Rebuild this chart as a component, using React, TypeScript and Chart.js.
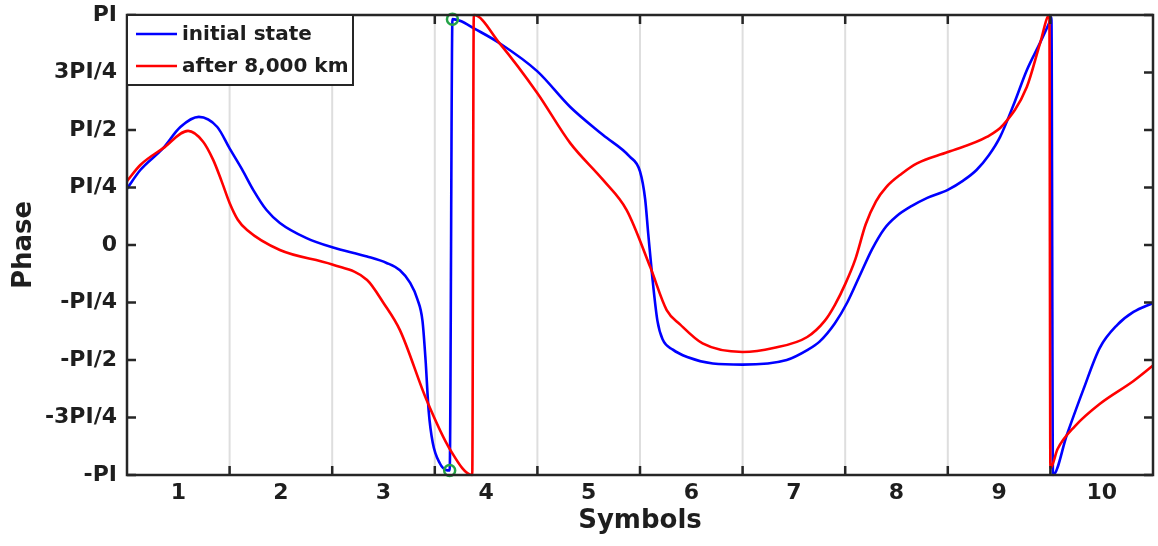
import React, { useEffect, useRef } from 'react';
import { Chart, registerables } from 'chart.js';

Chart.register(...registerables);

// ---- data (phase values are given in units of PI) ----
const X_TICKS = [1, 2, 3, 4, 5, 6, 7, 8, 9, 10];
const X_GRID = [1.5, 2.5, 3.5, 4.5, 5.5, 6.5, 7.5, 8.5, 9.5];
const Y_TICK_VALUES = [-1, -0.75, -0.5, -0.25, 0, 0.25, 0.5, 0.75, 1];
const Y_TICK_LABELS = ['-PI', '-3PI/4', '-PI/2', '-PI/4', '0', 'PI/4', 'PI/2', '3PI/4', 'PI'];

const SERIES_LABELS = ['initial state', 'after 8,000 km'];

const INITIAL_X = [
  0.5, 0.63, 0.85, 1.02, 1.2, 1.38, 1.5, 1.62, 1.73, 1.86, 1.99, 2.25, 2.5, 2.84, 3.03, 3.16,
  3.26, 3.33, 3.38, 3.41, 3.44, 3.48, 3.55, 3.61, 3.645, 3.672, 3.745, 3.89, 4.13, 4.5, 4.82,
  5.14, 5.4, 5.5, 5.55, 5.58, 5.62, 5.67, 5.72, 5.82, 5.96, 6.21, 6.5, 6.93, 7.13, 7.25, 7.4,
  7.52, 7.64, 7.76, 7.88, 8.0, 8.15, 8.3, 8.5, 8.65, 8.78, 8.9, 9.01, 9.15, 9.27, 9.4, 9.5,
  9.51, 9.525, 9.66, 9.82, 9.98, 10.15, 10.31, 10.5,
];
const INITIAL_Y = [
  0.245, 0.326, 0.42, 0.513, 0.557, 0.513, 0.42, 0.33, 0.24, 0.152, 0.096, 0.03, -0.01, -0.05,
  -0.078, -0.11, -0.165, -0.235, -0.33, -0.5, -0.72, -0.86, -0.95, -0.978, -0.98, 0.982, 0.975,
  0.94, 0.878, 0.755, 0.6, 0.478, 0.384, 0.32, 0.2, 0.05, -0.14, -0.33, -0.41, -0.455, -0.487,
  -0.515, -0.52, -0.5, -0.457, -0.42, -0.34, -0.25, -0.135, -0.02, 0.07, 0.125, 0.17, 0.205,
  0.24, 0.28, 0.326, 0.39, 0.47, 0.62, 0.76, 0.88, 0.978, 0.99, -1.0, -0.826, -0.63, -0.448,
  -0.348, -0.291, -0.252,
];

const AFTER_X = [
  0.5, 0.63, 0.85, 1.095, 1.24, 1.34, 1.42, 1.5, 1.58, 1.67, 1.99, 2.5, 2.84, 3.0, 3.16, 3.42,
  3.65, 3.865, 3.88, 4.13, 4.5, 4.82, 5.14, 5.37, 5.6, 5.76, 5.89, 6.11, 6.5, 6.8, 7.13, 7.3,
  7.4, 7.5, 7.6, 7.7, 7.8, 7.9, 8.05, 8.2, 8.5, 8.88, 9.04, 9.27, 9.4, 9.49, 9.5, 9.57, 9.74,
  9.98, 10.31, 10.5,
];
const AFTER_Y = [
  0.278, 0.348, 0.42, 0.496, 0.45, 0.37, 0.28, 0.183, 0.11, 0.065, -0.022, -0.085, -0.152,
  -0.252, -0.37, -0.674, -0.89, -1.0, 1.0, 0.878, 0.66, 0.443, 0.283, 0.152, -0.096, -0.283,
  -0.345, -0.428, -0.465, -0.448, -0.4, -0.33, -0.26, -0.17, -0.06, 0.09, 0.19, 0.252, 0.31,
  0.355, 0.404, 0.47, 0.522, 0.687, 0.878, 1.0, -0.97, -0.887, -0.787, -0.691, -0.591, -0.524,
];

const MARKER_X = [3.645, 3.672];
const MARKER_Y = [-0.98, 0.982];

// ---- styling ----
const FONT_FAMILY = "'DejaVu Sans', 'Liberation Sans', Arial, sans-serif";
const TEXT_COLOR = '#1e1e1e';
const AXIS_COLOR = '#262626';
const BLUE = '#0000ff';
const RED = '#ff0000';
const GREEN = '#23a347';

const toPoints = (xs: number[], ys: number[]) => xs.map((x, i) => ({ x, y: ys[i] }));

const framePlugin = {
  id: 'matlabFrame',
  beforeDatasetsDraw(chart: any) {
    const { ctx, chartArea, scales } = chart;
    const { top, bottom } = chartArea;
    ctx.save();
    ctx.strokeStyle = '#dedede';
    ctx.lineWidth = 2;
    X_GRID.forEach((v) => {
      const px = scales.x.getPixelForValue(v);
      ctx.beginPath();
      ctx.moveTo(px, top);
      ctx.lineTo(px, bottom);
      ctx.stroke();
    });
    ctx.restore();
  },
  afterDatasetsDraw(chart: any) {
    const { ctx, chartArea, scales } = chart;
    const { left, right, top, bottom } = chartArea;
    const tick = 9;
    ctx.save();
    ctx.strokeStyle = AXIS_COLOR;
    ctx.lineWidth = 2.5;
    // tick marks (inward, all four sides)
    X_GRID.forEach((v) => {
      const px = scales.x.getPixelForValue(v);
      ctx.beginPath();
      ctx.moveTo(px, bottom);
      ctx.lineTo(px, bottom - tick);
      ctx.moveTo(px, top);
      ctx.lineTo(px, top + tick);
      ctx.stroke();
    });
    Y_TICK_VALUES.forEach((v) => {
      const py = scales.y.getPixelForValue(v);
      ctx.beginPath();
      ctx.moveTo(left, py);
      ctx.lineTo(left + tick, py);
      ctx.moveTo(right, py);
      ctx.lineTo(right - tick, py);
      ctx.stroke();
    });
    ctx.strokeRect(left, top, right - left, bottom - top);

    // legend
    const lx = left;
    const ly = top;
    const lw = 226;
    const lh = 70;
    ctx.fillStyle = '#ffffff';
    ctx.fillRect(lx, ly, lw, lh);
    ctx.lineWidth = 2;
    ctx.strokeStyle = AXIS_COLOR;
    ctx.strokeRect(lx, ly, lw, lh);
    const colors = [BLUE, RED];
    const rows = [ly + 19, ly + 51];
    ctx.font = `bold 20px ${FONT_FAMILY}`;
    ctx.textBaseline = 'middle';
    ctx.textAlign = 'left';
    SERIES_LABELS.forEach((label, i) => {
      ctx.strokeStyle = colors[i];
      ctx.lineWidth = 2.6;
      ctx.beginPath();
      ctx.moveTo(lx + 9, rows[i]);
      ctx.lineTo(lx + 50, rows[i]);
      ctx.stroke();
      ctx.fillStyle = TEXT_COLOR;
      ctx.fillText(label, lx + 55, rows[i] + 1);
    });
    ctx.restore();
  },
};

export default function App() {
  const ref = useRef<HTMLCanvasElement>(null);

  useEffect(() => {
    const canvas = ref.current;
    if (!canvas) return;
    const tickFont = { family: FONT_FAMILY, size: 22, weight: 'bold' as const };
    const titleFont = { family: FONT_FAMILY, size: 26, weight: 'bold' as const };
    const chart = new Chart(canvas, {
      type: 'line',
      data: {
        datasets: [
          {
            label: SERIES_LABELS[0],
            data: toPoints(INITIAL_X, INITIAL_Y),
            borderColor: BLUE,
            backgroundColor: BLUE,
            borderWidth: 2.6,
            pointRadius: 0,
            cubicInterpolationMode: 'monotone',
            fill: false,
            order: 2,
            clip: 6,
          },
          {
            label: SERIES_LABELS[1],
            data: toPoints(AFTER_X, AFTER_Y),
            borderColor: RED,
            backgroundColor: RED,
            borderWidth: 2.6,
            pointRadius: 0,
            cubicInterpolationMode: 'monotone',
            fill: false,
            order: 1,
            clip: 6,
          },
          {
            label: 'markers',
            data: toPoints(MARKER_X, MARKER_Y),
            showLine: false,
            pointRadius: 5.5,
            pointBorderColor: GREEN,
            pointBackgroundColor: 'rgba(0,0,0,0)',
            pointBorderWidth: 2.5,
            order: 0,
            clip: 10,
          },
        ],
      },
      options: {
        responsive: false,
        animation: false,
        events: [],
        layout: { autoPadding: false, padding: { top: 15, right: 5, left: 0, bottom: 0 } },
        plugins: { legend: { display: false }, tooltip: { enabled: false } },
        scales: {
          x: {
            type: 'linear',
            min: 0.5,
            max: 10.5,
            afterBuildTicks: (s: any) => {
              s.ticks = X_TICKS.map((v) => ({ value: v }));
            },
            afterFit: (s: any) => {
              s.height = 71;
              s.paddingLeft = 0;
              s.paddingRight = 0;
            },
            grid: { display: false, drawTicks: false },
            border: { display: false },
            ticks: {
              autoSkip: false,
              maxRotation: 0,
              padding: 5,
              font: tickFont,
              color: TEXT_COLOR,
              callback: (v: any) => String(v),
            },
            title: {
              display: true,
              text: 'Symbols',
              font: titleFont,
              color: TEXT_COLOR,
              padding: { top: 0, bottom: 9 },
            },
          },
          y: {
            type: 'linear',
            min: -1,
            max: 1,
            afterBuildTicks: (s: any) => {
              s.ticks = Y_TICK_VALUES.map((v) => ({ value: v }));
            },
            afterFit: (s: any) => {
              s.width = 127;
              s.paddingTop = 0;
              s.paddingBottom = 0;
            },
            grid: { display: false, drawTicks: false },
            border: { display: false },
            ticks: {
              autoSkip: false,
              padding: 10,
              font: tickFont,
              color: TEXT_COLOR,
              callback: (v: any) => {
                const i = Y_TICK_VALUES.findIndex((t) => Math.abs(t - v) < 1e-9);
                return i >= 0 ? Y_TICK_LABELS[i] : '';
              },
            },
            title: {
              display: true,
              text: 'Phase',
              font: titleFont,
              color: TEXT_COLOR,
              padding: { top: 9, bottom: 0 },
            },
          },
        },
      },
      plugins: [framePlugin],
    } as any);
    return () => chart.destroy();
  }, []);

  return (
    <div style={{ position: 'fixed', left: 0, top: 0, width: 1158, height: 546, background: '#fff' }}>
      <canvas ref={ref} width={1158} height={546} />
    </div>
  );
}
